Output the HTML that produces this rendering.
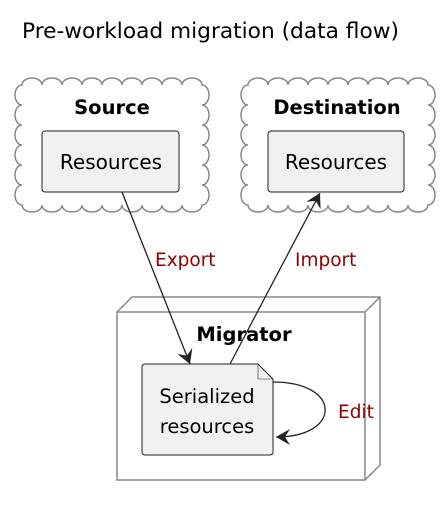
<!DOCTYPE html>
<html><head><meta charset="utf-8"><style>body{margin:0;background:#fff}svg{display:block}text{font-family:"DejaVu Sans","Liberation Sans",sans-serif}</style></head><body>
<svg width="448" height="505" viewBox="0 0 448 505">
<defs><marker id="a" markerWidth="18" markerHeight="16" refX="14" refY="8" orient="auto" markerUnits="userSpaceOnUse"><path d="M0,0 L14,8 L0,16 L5,8 Z" fill="#222"/></marker></defs>
<text x="22" y="38" font-size="21.7" fill="#000">Pre-workload migration (data flow)</text>
<g fill="none" stroke="#888" stroke-width="1.5">
<path d="M22,85 a10,7 0 0 1 20,0 a10,7 0 0 1 20,0 a10,7 0 0 1 20,0 a10,7 0 0 1 20,0 a10,7 0 0 1 20,0 a10,7 0 0 1 20,0 a10,7 0 0 1 20,0 a10,7 0 0 1 20,0 a10,7 0 0 1 20,0 a7,10 0 0 1 0,20 a7,10 0 0 1 0,20 a7,10 0 0 1 0,20 a7,10 0 0 1 0,20 a7,10 0 0 1 0,20 a7,10 0 0 1 0,20 a10,7 0 0 1 -20,0 a10,7 0 0 1 -20,0 a10,7 0 0 1 -20,0 a10,7 0 0 1 -20,0 a10,7 0 0 1 -20,0 a10,7 0 0 1 -20,0 a10,7 0 0 1 -20,0 a10,7 0 0 1 -20,0 a10,7 0 0 1 -20,0 a7,10 0 0 1 0,-20 a7,10 0 0 1 0,-20 a7,10 0 0 1 0,-20 a7,10 0 0 1 0,-20 a7,10 0 0 1 0,-20 a7,10 0 0 1 0,-20 Z"/>
<path d="M248,85 a10,7 0 0 1 20,0 a10,7 0 0 1 20,0 a10,7 0 0 1 20,0 a10,7 0 0 1 20,0 a10,7 0 0 1 20,0 a10,7 0 0 1 20,0 a10,7 0 0 1 20,0 a10,7 0 0 1 20,0 a10,7 0 0 1 20,0 a7,10 0 0 1 0,20 a7,10 0 0 1 0,20 a7,10 0 0 1 0,20 a7,10 0 0 1 0,20 a7,10 0 0 1 0,20 a7,10 0 0 1 0,20 a10,7 0 0 1 -20,0 a10,7 0 0 1 -20,0 a10,7 0 0 1 -20,0 a10,7 0 0 1 -20,0 a10,7 0 0 1 -20,0 a10,7 0 0 1 -20,0 a10,7 0 0 1 -20,0 a10,7 0 0 1 -20,0 a10,7 0 0 1 -20,0 a7,10 0 0 1 0,-20 a7,10 0 0 1 0,-20 a7,10 0 0 1 0,-20 a7,10 0 0 1 0,-20 a7,10 0 0 1 0,-20 a7,10 0 0 1 0,-20 Z"/>
<rect x="117" y="312" width="248" height="168"/>
<path d="M117,312 L132,297 L380,297 L380,465 L365,480 M365,312 L380,297"/>
</g>
<text x="112" y="114" font-size="19.5" font-weight="bold" text-anchor="middle">Source</text>
<text x="337" y="114" font-size="19.5" font-weight="bold" text-anchor="middle">Destination</text>
<text x="244" y="341" font-size="19.5" font-weight="bold" text-anchor="middle">Migrator</text>
<rect x="42" y="131" width="137" height="61" rx="3" fill="#f1f1f1" stroke="#222"/>
<text x="111" y="169" font-size="20" text-anchor="middle">Resources</text>
<rect x="268" y="131" width="136" height="61" rx="3" fill="#f1f1f1" stroke="#222"/>
<text x="336" y="169" font-size="20" text-anchor="middle">Resources</text>
<path d="M145,364 L258,364 L273,379 L273,452 a3,3 0 0 1 -3,3 L145,455 a3,3 0 0 1 -3,-3 L142,367 a3,3 0 0 1 3,-3 Z" fill="#f1f1f1" stroke="#222"/>
<path d="M258,364 L258,379 L273,379" fill="none" stroke="#222" stroke-width="0.6"/>
<text x="207" y="403" font-size="19.5" text-anchor="middle">Serialized</text>
<text x="207" y="433" font-size="19.5" text-anchor="middle">resources</text>
<g fill="none" stroke="#222" stroke-width="1.3">
<line x1="122" y1="192" x2="190" y2="364" marker-end="url(#a)"/>
<line x1="230" y1="364" x2="320" y2="193" marker-end="url(#a)"/>
<path d="M273,382 C342,382 342,437 276,437" marker-end="url(#a)"/>
</g>
<text x="155" y="266" font-size="18.5" fill="#8b0000">Export</text>
<text x="295" y="266" font-size="18.5" fill="#8b0000">Import</text>
<text x="338" y="418" font-size="18.5" fill="#8b0000">Edit</text>
</svg>
</body></html>
